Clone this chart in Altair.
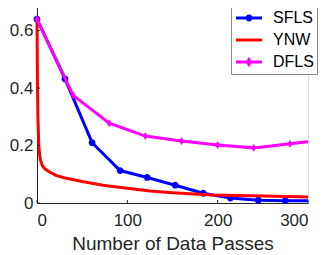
import altair as alt
import pandas as pd

series_names = ["SFLS", "YNW", "DFLS"]
series_colors = ["#0000FF", "#FF0000", "#FF00FF"]

sfls_x = [0, 31, 61, 92, 122, 153, 184, 214, 245, 275, 300]
sfls_y = [0.64, 0.432, 0.21, 0.113, 0.089, 0.062, 0.034, 0.017, 0.010, 0.008, 0.008]

ynw_x = [0, 0.5, 1, 2, 3, 4, 6, 8, 10, 15, 21, 30, 50, 73, 100, 125, 150, 194, 250, 300]
ynw_y = [0.64, 0.42, 0.30, 0.20, 0.165, 0.148, 0.13, 0.122, 0.116, 0.106, 0.096, 0.088,
         0.075, 0.062, 0.051, 0.042, 0.036, 0.028, 0.024, 0.021]

dfls_x = [0, 40, 80, 120, 160, 200, 240, 280, 300]
dfls_y = [0.64, 0.375, 0.278, 0.233, 0.216, 0.202, 0.192, 0.206, 0.213]

x_ticks = [0, 100, 200, 300]
y_ticks = [0, 0.2, 0.4, 0.6]

FONT = "Liberation Sans"
W, H = 271, 201


def frame(xs, ys, name):
    n = len(xs)
    return pd.DataFrame({"x": xs, "y": ys, "series": [name] * n,
                         "marked": [i < n - 1 for i in range(n)]})


sfls = frame(sfls_x, sfls_y, "SFLS")
ynw = frame(ynw_x, ynw_y, "YNW")
dfls = frame(dfls_x, dfls_y, "DFLS")

# legend symbols: line segment + marker (custom SVG paths)
shape_paths = [
    "M-2,0H2M-0.31,0A0.31,0.31 0 1,0 0.31,0A0.31,0.31 0 1,0 -0.31,0Z",
    "M-2,0H2",
    "M-2,0H2M0,-0.36L0.23,0L0,0.36L-0.23,0Z",
]

xs = alt.Scale(domain=[0, 300], nice=False, zero=False)
ys = alt.Scale(domain=[0, 0.7], nice=False)
cs = alt.Scale(domain=series_names, range=series_colors)
ss = alt.Scale(domain=series_names, range=shape_paths)

legend = alt.Legend(
    title=None, orient="none", legendX=194, legendY=5,
    fillColor="white", strokeColor="#8a8a8a", padding=3,
    symbolSize=169, symbolStrokeWidth=3, symbolOpacity=1, symbolOffset=7,
    labelFont=FONT, labelFontSize=16, labelColor="black",
    labelOffset=16, rowPadding=5,
)

x_axis = alt.Axis(values=x_ticks, ticks=False, grid=False, labelFont=FONT,
                  labelFontSize=17, labelColor="#262626", labelPadding=9,
                  domainColor="#262626", title="Number of Data Passes",
                  titleFont=FONT, titleFontSize=19, titleFontWeight="normal",
                  titleColor="#262626", titlePadding=6)
y_axis = alt.Axis(values=y_ticks, ticks=False, grid=False, format=".1~f",
                  labelFont=FONT, labelFontSize=17, labelColor="#262626",
                  labelPadding=4, domainColor="#262626", title=None)

X = alt.X("x:Q", scale=xs, axis=x_axis)
Y = alt.Y("y:Q", scale=ys, axis=y_axis)


def line_layer(df):
    return alt.Chart(df).mark_line(strokeWidth=3, opacity=1).encode(
        x=X, y=Y,
        color=alt.Color("series:N", scale=cs, legend=legend),
    )


def point_layer(df, size):
    return alt.Chart(df).transform_filter("datum.marked").mark_point(
        filled=True, opacity=1, strokeWidth=0).encode(
        x=X, y=Y,
        color=alt.Color("series:N", scale=cs, legend=legend),
        shape=alt.Shape("series:N", scale=ss, legend=legend),
        size=alt.value(size),
    )


xt = pd.DataFrame({"t": x_ticks})
yt = pd.DataFrame({"t": y_ticks})
xtick_rules = alt.Chart(xt).mark_rule(color="#262626", strokeWidth=1).encode(
    x=alt.X("t:Q", scale=xs, axis=x_axis), y=alt.value(H), y2=alt.value(H - 3))
ytick_rules = alt.Chart(yt).mark_rule(color="#262626", strokeWidth=1).encode(
    y=alt.Y("t:Q", scale=ys, axis=y_axis), x=alt.value(0), x2=alt.value(3))

chart = alt.layer(
    line_layer(sfls),
    point_layer(sfls, 484),
    line_layer(ynw),
    line_layer(dfls),
    point_layer(dfls, 484),
    xtick_rules,
    ytick_rules,
).properties(
    width=W, height=H,
    autosize=alt.AutoSizeParams(type="none"),
    padding={"left": 29, "top": -6, "right": 16, "bottom": 49},
).configure_view(stroke=None).configure(background="white")

chart.save("out.html", embed_options={"renderer": "svg", "actions": False})
